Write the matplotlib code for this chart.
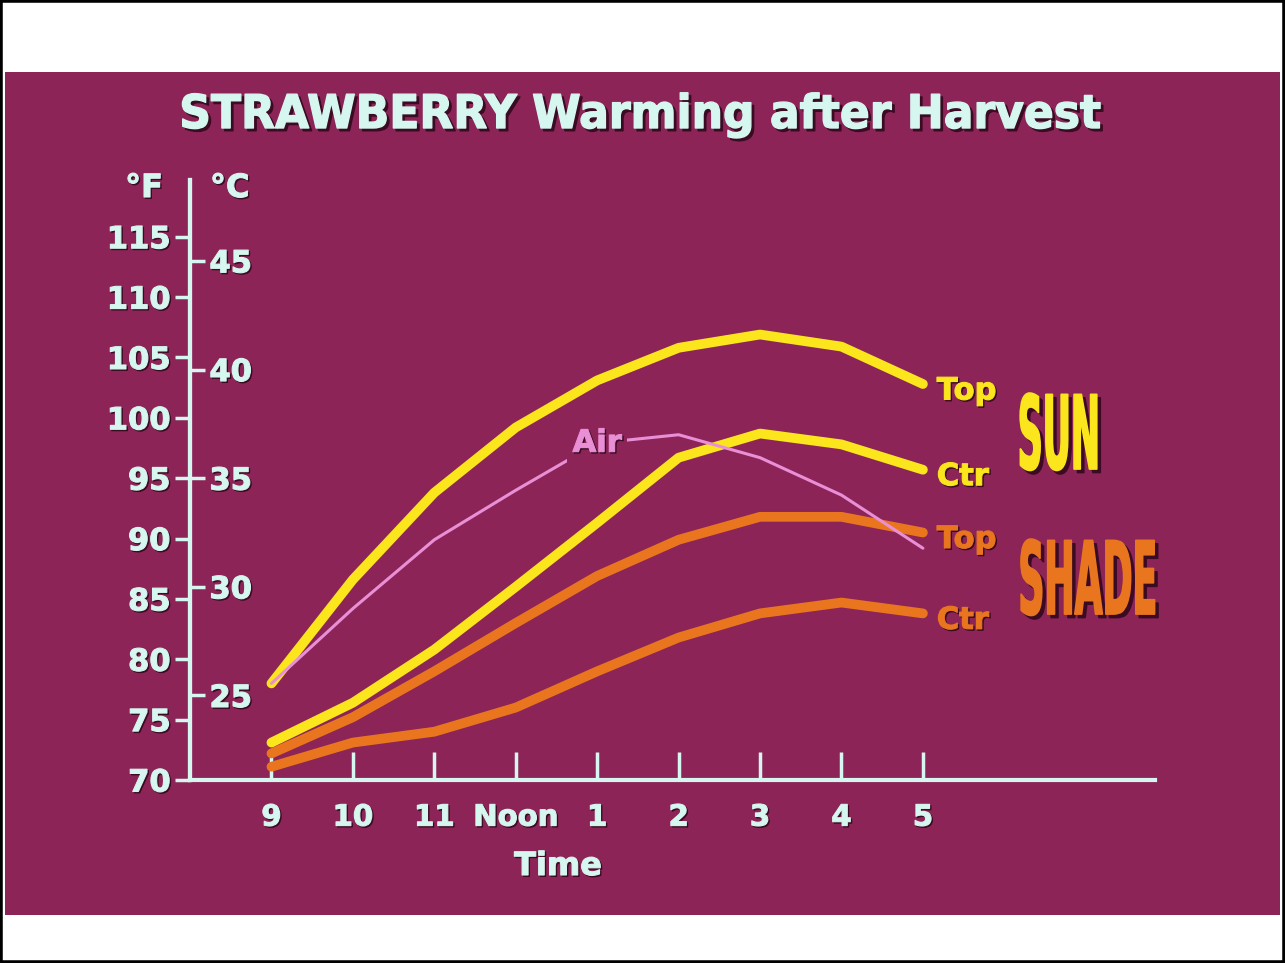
import matplotlib
matplotlib.use('Agg')
import matplotlib.pyplot as plt
import matplotlib.patheffects as pe
from matplotlib.patches import Rectangle
from matplotlib.transforms import Affine2D
from matplotlib.colors import to_rgba

# data (deg F)
hours = [9, 10, 11, 12, 13, 14, 15, 16, 17]
hour_labels = ['9', '10', '11', 'Noon', '1', '2', '3', '4', '5']
sun_top = [78.0, 86.6, 93.8, 99.2, 103.1, 105.8, 106.9, 105.9, 102.8]
sun_ctr = [73.1, 76.4, 80.8, 86.0, 91.3, 96.7, 98.7, 97.8, 95.7]
shade_top = [72.2, 75.2, 79.0, 83.0, 86.9, 89.9, 91.8, 91.8, 90.5]
shade_ctr = [71.1, 73.1, 74.0, 76.0, 79.0, 81.8, 83.8, 84.7, 83.8]
air = [78.0, 84.2, 89.9, 94.0, 97.9, 98.6, 96.7, 93.6, 89.2]
f_ticks = [70, 75, 80, 85, 90, 95, 100, 105, 110, 115]
c_ticks = [25, 30, 35, 40, 45]

SLIDE = '#8c2457'
INK = '#d6f7ef'
YELLOW = '#fbe51c'
ORANGE = '#e9761f'
PINK = '#e98fd6'
SHADOW = '#3a0b22'

W, H = 1285, 963


def fx(px):
    return px / W


def fy(py):
    return 1 - py / H


class Scaled(pe.AbstractPathEffect):
    """draw a text path scaled (sx about its centre, sy about its bottom),
    optionally with an outline to make it heavier"""

    def __init__(self, sx=1.0, sy=1.0, offset=(0, 0), fill=None, heavy=0.0):
        super().__init__(offset)
        self.sx, self.sy = sx, sy
        self.fill = fill
        self.heavy = heavy

    def draw_path(self, renderer, gc, tpath, affine, rgbFace=None):
        box = tpath.get_extents(affine)
        cx = (box.x0 + box.x1) / 2
        t = (affine + Affine2D().translate(-cx, -box.y0).scale(self.sx, self.sy)
             .translate(cx, box.y0) + self._offset_transform(renderer))
        face = to_rgba(self.fill) if self.fill else rgbFace
        gc0 = renderer.new_gc()
        gc0.copy_properties(gc)
        gc0.set_linewidth(self.heavy)
        gc0.set_foreground(face)
        gc0.set_joinstyle('round')
        renderer.draw_path(gc0, tpath, t, face)
        gc0.restore()


def shadowed(d=1.5, heavy=0.8, sx=1.0, sy=1.0):
    return [Scaled(sx, sy, (d, -d), SHADOW, heavy), Scaled(sx, sy, heavy=heavy)]


plt.rcParams['font.family'] = ['DejaVu Sans']
plt.rcParams['font.weight'] = 'bold'

fig = plt.figure(figsize=(W / 100, H / 100), dpi=100, facecolor='white')
fig.add_artist(Rectangle((fx(5), fy(915)), fx(1280) - fx(5), fy(72) - fy(915),
                         transform=fig.transFigure, facecolor=SLIDE, edgecolor='none', zorder=0))
fig.add_artist(Rectangle((0, 0), 1, 1, transform=fig.transFigure, fill=False,
                         edgecolor='black', linewidth=4, zorder=0))

ax = fig.add_axes([fx(190), fy(780), fx(1155) - fx(190), fy(180) - fy(780)])
ax.patch.set_visible(False)
ax.set_axisbelow(True)
ax.set_xlim(8, 19.85)
ax.set_ylim(70, 119.7)

for s in ['top', 'right']:
    ax.spines[s].set_visible(False)
for s in ['left', 'bottom']:
    ax.spines[s].set_color(INK)
    ax.spines[s].set_linewidth(3)

ax.plot(hours, sun_top, color=YELLOW, lw=7, solid_capstyle='round', solid_joinstyle='round')
ax.plot(hours, sun_ctr, color=YELLOW, lw=7, solid_capstyle='round', solid_joinstyle='round')
ax.plot(hours, shade_top, color=ORANGE, lw=7, solid_capstyle='round', solid_joinstyle='round')
ax.plot(hours, shade_ctr, color=ORANGE, lw=7, solid_capstyle='round', solid_joinstyle='round')
ax.plot(hours, air, color=PINK, lw=2.2, solid_capstyle='round')

ax.text(hours[4], air[4], 'Air', color=PINK, fontsize=22, ha='center', va='center',
        bbox=dict(facecolor=SLIDE, edgecolor='none', pad=4), path_effects=shadowed(1))

ax.set_xticks(hours, hour_labels)
ax.set_yticks(f_ticks)
ax.tick_params(axis='x', direction='in', length=20, width=2.5, color=INK,
               labelcolor=INK, labelsize=21, pad=17)
ax.tick_params(axis='y', direction='out', length=11, width=2.5, color=INK,
               labelcolor=INK, labelsize=22, pad=3)

sec = ax.secondary_yaxis(0.0, functions=(lambda f: (f - 32) * 5 / 9, lambda c: c * 9 / 5 + 32))
sec.set_alignment('right')
sec.set_yticks(c_ticks)
sec.tick_params(direction='out', length=11, width=2.5, color=INK, labelcolor=INK,
                labelsize=22, pad=3)
sec.spines['right'].set_color(INK)
sec.spines['right'].set_linewidth(3)

for lbl in ax.get_xticklabels() + ax.get_yticklabels() + sec.get_yticklabels():
    lbl.set_path_effects(shadowed(1))

# series end labels
for vals, name, col in [(sun_top, 'Top', YELLOW), (sun_ctr, 'Ctr', YELLOW),
                        (shade_top, 'Top', ORANGE), (shade_ctr, 'Ctr', ORANGE)]:
    ax.annotate(name, (hours[-1], vals[-1]), xytext=(10, -5), textcoords='offset points',
                color=col, fontsize=22, ha='left', va='center', path_effects=shadowed(1))

# tall condensed group labels: small font stretched upwards from the baseline
fig.text(fx(1059), fy(470), 'SUN', color=YELLOW, fontsize=25, ha='center', va='baseline',
         path_effects=shadowed(2.5, 1.2, sy=2.95))
fig.text(fx(1088), fy(615), 'SHADE', color=ORANGE, fontsize=26, ha='center', va='baseline',
         path_effects=shadowed(2.5, 1.2, sy=2.8))

fig.text(fx(640), fy(128), 'STRAWBERRY Warming after Harvest', color=INK, fontsize=33.4,
         ha='center', va='baseline', path_effects=shadowed(2, 1.0, sx=0.95))
fig.text(fx(163), fy(197), '°F', color=INK, fontsize=23, ha='right', va='baseline',
         path_effects=shadowed(1))
fig.text(fx(210), fy(197), '°C', color=INK, fontsize=23, ha='left', va='baseline',
         path_effects=shadowed(1))
fig.text(fx(558), fy(875), 'Time', color=INK, fontsize=23, ha='center', va='baseline',
         path_effects=shadowed(1))

fig.savefig('out.png', dpi=100, facecolor='white')
